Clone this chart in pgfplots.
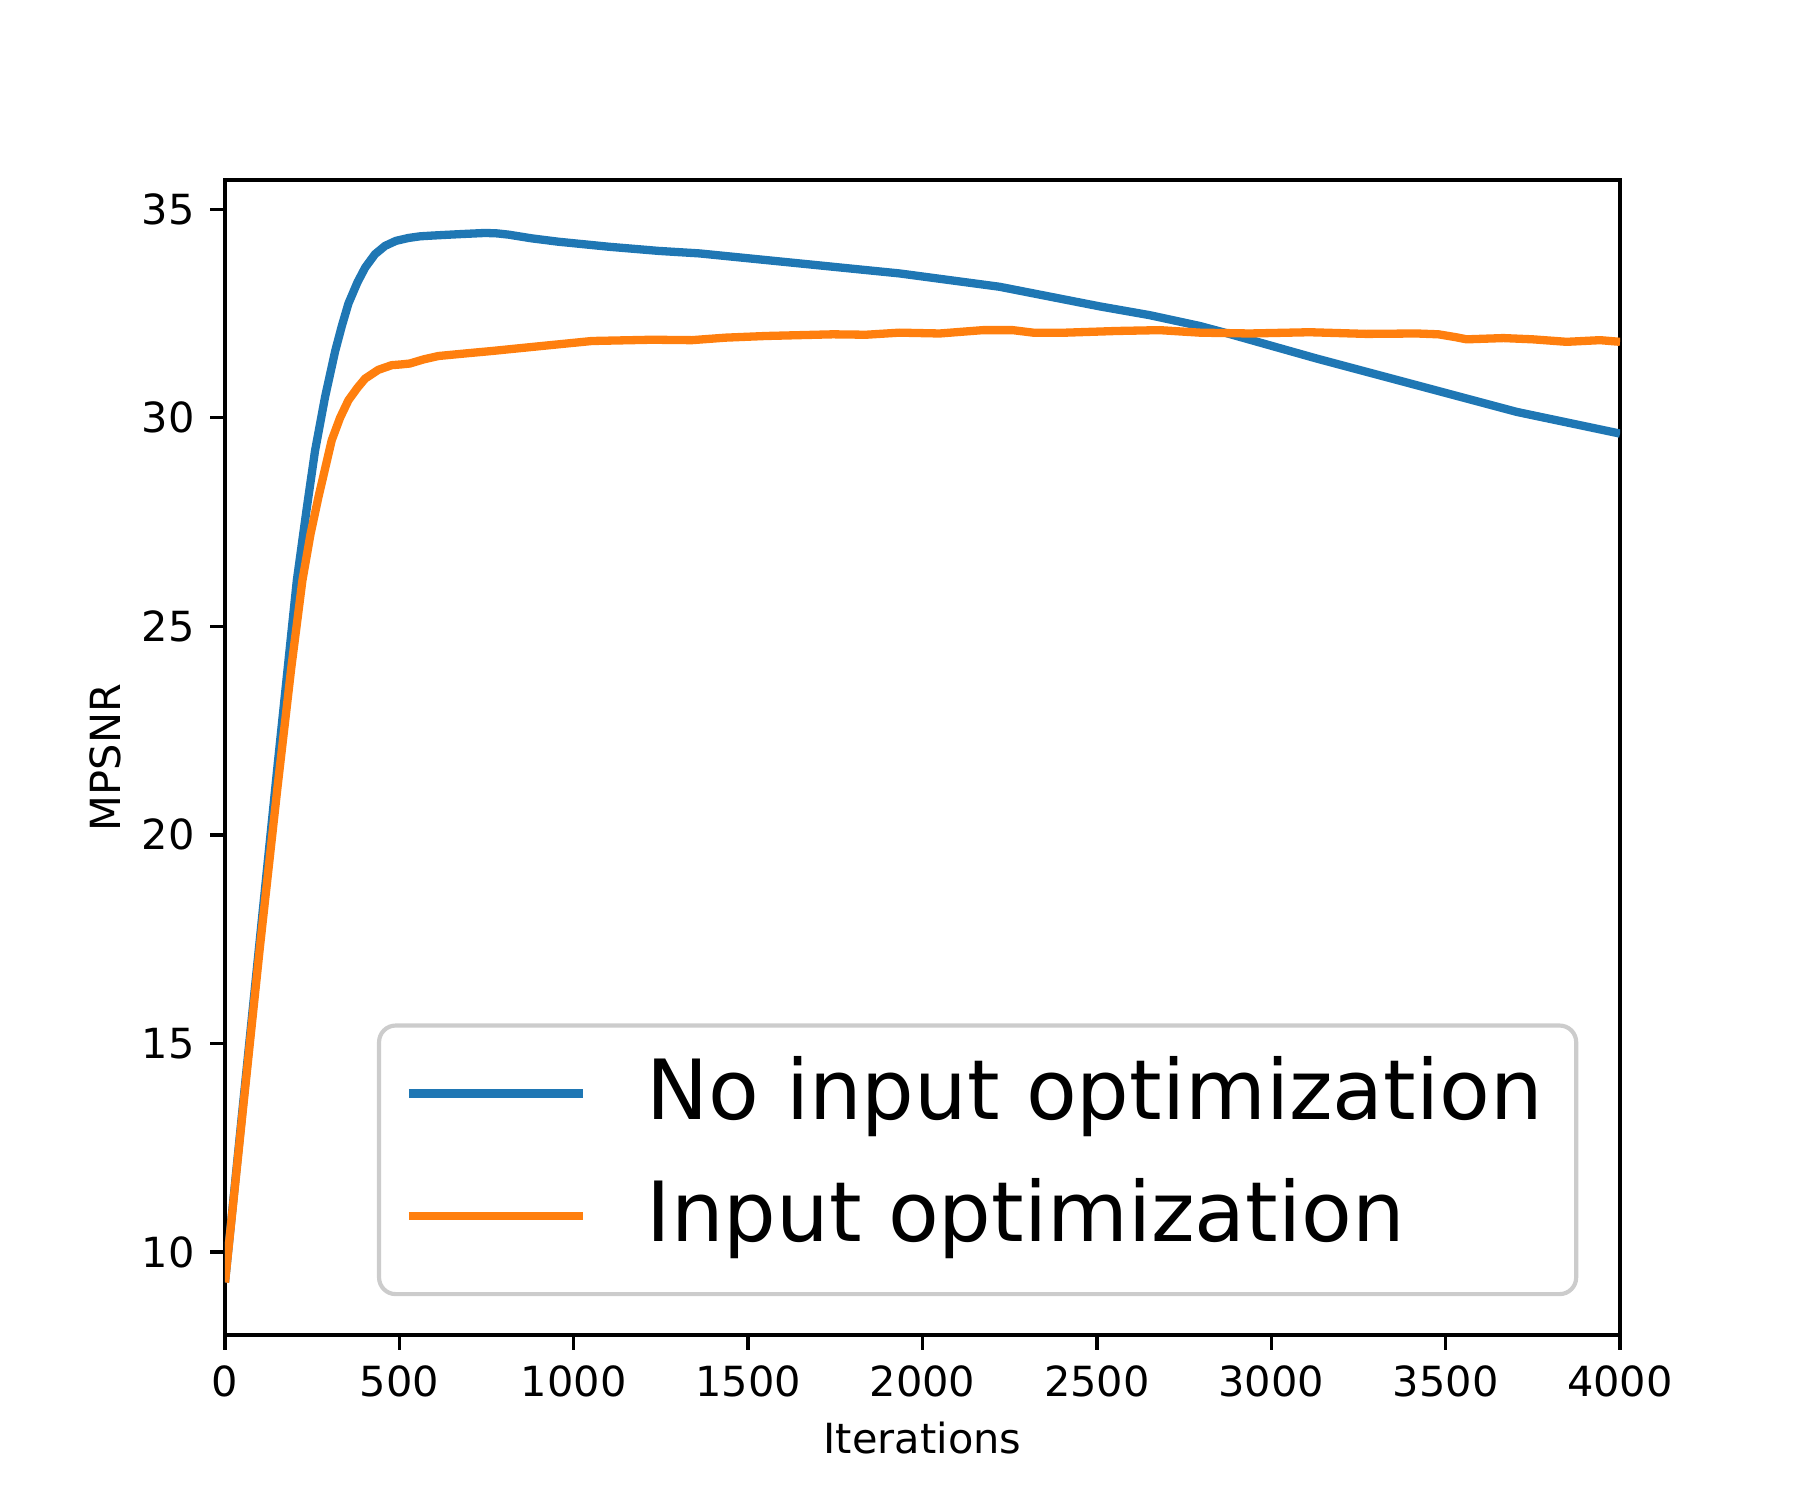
\documentclass[border=0pt]{standalone}
\usepackage{fontspec}
\setmainfont{DejaVu Sans}
\usepackage{pgfplots}
\pgfplotsset{compat=1.18}
\definecolor{mplblue}{HTML}{1F77B4}
\definecolor{mplorange}{HTML}{FF7F0E}

\begin{document}
\begin{tikzpicture}
\begin{axis}[
  scale only axis,
  width=4.65in, height=3.85in,
  xmin=0, xmax=4000, ymin=8.01, ymax=35.70,
  xtick={0,500,...,4000},
  ytick={10,15,...,35},
  tick align=outside, tick pos=left,
  major tick length=3.5pt,
  every tick/.style={black, line width=0.8pt},
  axis line style={line width=0.8pt},
  /pgf/number format/assume math mode=true,
  /pgf/number format/1000 sep={},
  ticklabel style={font=\fontsize{10}{12}\selectfont},
  xticklabel style={inner sep=0pt, anchor=north, yshift=-3.6pt},
  yticklabel style={inner sep=0pt, anchor=east, xshift=-3.6pt},
  label style={font=\fontsize{10}{12}\selectfont},
  xlabel={Iterations},
  ylabel={MPSNR},
  xlabel style={at={(axis description cs:0.5,-0.089)}, anchor=center},
  ylabel style={at={(axis description cs:-0.086,0.5)}, anchor=center},
  legend cell align=left,
  legend image code/.code={\draw[#1, line width=2pt] (0pt,1.25pt) -- (41.9pt,1.25pt);},
  legend style={
    at={(axis description cs:0.9701,0.0336)}, anchor=south east,
    draw=black!20, line width=1pt, rounded corners=4pt,
    font=\fontsize{20}{24}\selectfont,
    inner xsep=6.2pt, inner ysep=8pt,
    row sep=10.1pt,
    nodes={inner sep=0pt, text height=14.6pt, text depth=4.7pt},
    /tikz/every odd column/.append style={column sep=14.4pt},
  },
]

% no input optimization
\addplot[mplblue, line width=2pt] table {
0 9.27
50 13.4
100 17.5
150 21.6
206 26.1
234 27.8
258 29.2
287 30.5
316 31.6
335 32.2
354 32.74
380 33.25
402 33.60
430 33.92
459 34.12
490 34.24
526 34.31
560 34.35
600 34.37
669 34.40
746 34.43
780 34.42
813 34.39
880 34.30
956 34.22
1100 34.10
1243 34.00
1360 33.94
1647 33.70
1934 33.46
2221 33.14
2508 32.67
2651 32.46
2795 32.20
2871 32.03
3130 31.42
3417 30.78
3704 30.14
4000 29.62
};
\addlegendentry{No input optimization\hspace*{1.9pt}}

% input optimization
\addplot[mplorange, line width=2pt] table {
0 9.27
50 13.3
100 17.3
150 21.1
190 24.0
222 26.1
245 27.2
268 28.1
306 29.46
330 30.0
354 30.42
380 30.72
402 30.94
440 31.15
478 31.26
507 31.28
530 31.30
570 31.40
612 31.48
700 31.55
765 31.60
860 31.68
956 31.76
1052 31.84
1225 31.87
1339 31.86
1435 31.92
1551 31.96
1743 32.00
1838 31.99
1934 32.04
2049 32.02
2173 32.10
2259 32.10
2317 32.04
2412 32.04
2556 32.08
2680 32.10
2795 32.04
2938 32.02
3110 32.05
3273 32.01
3417 32.02
3480 32.00
3530 31.93
3560 31.88
3666 31.91
3750 31.88
3847 31.82
3943 31.86
4000 31.82
};
\addlegendentry{Input optimization}

\end{axis}
\pgfresetboundingbox
\path[use as bounding box] ([xshift=-0.75in,yshift=-0.55in]current axis.south west) rectangle ([xshift=0.6in,yshift=0.6in]current axis.north east);
\end{tikzpicture}
\end{document}
